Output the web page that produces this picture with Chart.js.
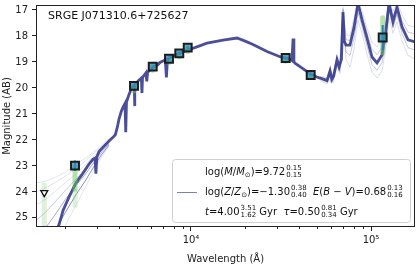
<!DOCTYPE html>
<html>
<head>
<meta charset="utf-8">
<script src="https://cdn.jsdelivr.net/npm/chart.js@4.4.1/dist/chart.umd.min.js"></script>
<style>
  html, body { margin: 0; padding: 0; background: #fff; }
  canvas { display: block; }
</style>
</head>
<body>
<canvas id="sed" width="417" height="273"></canvas>
<script>
// best fit model spectrum (wavelength in Angstrom, AB mag)
const specWave = [1377, 1700, 1824, 1950, 2100, 2296, 2500, 2700, 2850, 2930, 2963, 3000, 3083, 3330, 3550,
  3687, 3800, 3900, 3981, 4100, 4190, 4300, 4340, 4380, 4500, 4650, 4762, 4840, 4861, 4880, 5100, 5300,
  5340, 5380, 5623, 5680, 5740, 6150, 6563, 6730, 7200, 7300, 7400, 7640, 8690, 9500, 10500, 12270, 15060,
  18020, 20000, 22100, 26440, 31200, 35000, 36400, 36890, 37300, 37840, 45800, 50000, 52100, 57000, 59200,
  60500, 62000, 64730, 66500, 68500, 69890, 71000, 72620, 76430, 80440, 84660, 89130, 95010, 101290, 107980,
  115100, 121150, 125890, 132520, 139450, 148670, 160530, 175550];
const specMag = [27.5, 26.2, 25.4, 24.7, 24.2, 23.65, 23.3, 22.95, 22.75, 22.7, 23.3, 22.65, 22.45, 22.2, 22.0,
  21.9, 21.8, 21.5, 21.2, 20.9, 20.75, 20.6, 21.7, 20.55, 20.3, 20.05, 19.95, 19.9, 20.7, 19.88, 19.72, 19.62,
  20.2, 19.6, 19.42, 19.75, 19.4, 19.2, 19.1, 19.02, 18.92, 19.6, 18.9, 18.82, 18.66, 18.55, 18.45, 18.28, 18.16,
  18.08, 18.2, 18.33, 18.6, 18.8, 18.88, 18.95, 18.1, 19.0, 19.05, 19.45, 19.58, 19.62, 19.72, 19.35,
  19.68, 19.55, 18.92, 19.2, 18.9, 17.08, 18.2, 18.35, 18.35, 17.69, 16.75, 17.38, 18.08, 18.81, 19.04,
  18.73, 17.77, 16.75, 17.46, 16.9, 17.65, 18.15, 18.23];

// spread of the posterior models in the UV
const uvWave = [1377, 1550, 1750, 2000, 2300, 2600, 2900, 3200, 3500];
const uvFanA = [23.65, 23.6, 23.45, 23.25, 22.95, 22.7, 22.45, 22.2, 21.95];
const uvFanB = [24.0, 23.85, 23.65, 23.4, 23.1, 22.8, 22.5, 22.25, 22.0];
const uvFanC = [24.5, 24.3, 24.0, 23.65, 23.3, 22.95, 22.6, 22.3, 22.05];
const uvFanD = [25.1, 24.8, 24.4, 23.95, 23.5, 23.1, 22.7, 22.35, 22.1];
const uvFanE = [25.9, 25.4, 24.9, 24.3, 23.75, 23.3, 22.85, 22.45, 22.15];
const uvFanF = [26.8, 26.1, 25.5, 24.8, 24.1, 23.55, 23.0, 22.55, 22.2];
const uvFanG = [27.5, 26.8, 26.1, 25.3, 24.5, 23.8, 23.15, 22.65, 22.25];

// spread of the posterior models in the mid-IR
const irWave = [52100, 57000, 59200, 61500, 64730, 67240, 69890, 72620, 76430, 80440, 84660, 89130, 95010,
  101290, 107980, 115100, 121150, 125890, 132520, 139450, 148670, 160530, 175550];
const irUp2 = [19.55, 19.62, 19.25, 19.5, 18.75, 18.95, 16.9, 17.95, 18.0, 17.3, 16.6, 17.05, 17.7,
  18.25, 18.42, 18.15, 17.35, 16.65, 17.05, 16.7, 17.2, 17.6, 17.65];
const irUp1 = [19.58, 19.67, 19.3, 19.56, 18.83, 19.07, 16.98, 18.15, 18.17, 17.5, 16.72, 17.2, 17.88,
  18.52, 18.72, 18.43, 17.55, 16.72, 17.25, 16.8, 17.42, 17.85, 17.93];
const irLo1 = [19.66, 19.78, 19.42, 19.7, 19.02, 19.32, 17.18, 18.62, 18.75, 18.1, 17.1, 17.63, 18.38,
  19.1, 19.32, 19.03, 18.08, 17.0, 17.68, 17.18, 17.9, 18.45, 18.55];
const irLo2 = [19.7, 19.85, 19.5, 19.8, 19.15, 19.45, 17.3, 18.9, 19.2, 18.5, 17.4, 17.9, 18.7,
  19.4, 19.62, 19.35, 18.4, 17.3, 17.9, 17.45, 18.2, 18.75, 18.9];

// observed photometry
const bandWave = [2268, 4824, 6128, 7547, 8610, 9587, 33570, 46240, 116100];
const bandMag = [22.99, 19.92, 19.18, 18.88, 18.67, 18.45, 18.85, 19.50, 18.06];
const bandErr = [0.2, 0.03, 0.03, 0.03, 0.03, 0.04, 0.03, 0.04, 0.48];
const limitWave = [1531];
const limitMag = [24.03];

// posterior model photometry ranges (core and faint tails)
const postWave = [2268, 4824, 6128, 7547, 8610, 9587, 33570, 46240, 116100];
const postLo = [23.05, 19.9, 19.15, 18.85, 18.65, 18.45, 18.83, 19.45, 17.3];
const postHi = [23.9, 20.12, 19.32, 19.02, 18.8, 18.6, 18.97, 19.6, 18.65];
const tailWave = [1531, 2268];
const tailLo = [23.65, 23.9];
const tailHi = [25.4, 24.6];

const xTickVals = [2000, 3000, 4000, 5000, 6000, 7000, 8000, 9000, 10000,
  20000, 30000, 40000, 50000, 60000, 70000, 80000, 90000, 100000];
const yTickVals = [17, 18, 19, 20, 21, 22, 23, 24, 25];

const objName = 'SRGE J071310.6+725627';

const legendRows = [
  [{t: 'log('}, {t: 'M', i: 1}, {t: '/'}, {t: 'M', i: 1}, {lo: '⊙'}, {t: ')=9.72'}, {up: '0.15', dn: '0.15'}],
  [{t: 'log('}, {t: 'Z', i: 1}, {t: '/'}, {t: 'Z', i: 1}, {lo: '⊙'}, {t: ')=−1.30'}, {up: '0.38', dn: '0.40'},
   {t: '  '}, {t: 'E', i: 1}, {t: '('}, {t: 'B', i: 1}, {t: ' − '}, {t: 'V', i: 1}, {t: ')=0.68'}, {up: '0.13', dn: '0.16'}],
  [{t: 't', i: 1}, {t: '=4.00'}, {up: '3.51', dn: '1.62'}, {t: ' Gyr  '}, {t: 'τ', i: 1}, {t: '=0.50'},
   {up: '0.81', dn: '0.34'}, {t: ' Gyr'}]
];

const FONT = '"DejaVu Sans", sans-serif';

function pts(xs, ys) {
    return xs.map((x, i) => ({x: x, y: ys[i]}));
}

// vertical segments separated by gaps
function segs(xs, lo, hi) {
    const out = [];
    xs.forEach((x, i) => {
        out.push({x: x, y: lo[i]}, {x: x, y: hi[i]}, {x: x, y: null});
    });
    return out;
}

function fanLine(xs, ys, color, order) {
    return {
        data: pts(xs, ys), borderColor: color, borderWidth: 1,
        pointRadius: 0, tension: 0, fill: false, order: order
    };
}

function drawRich(ctx, parts, x, y) {
    ctx.textBaseline = 'middle';
    ctx.textAlign = 'left';
    parts.forEach((p) => {
        if (p.up !== undefined) {
            ctx.font = '7px ' + FONT;
            ctx.fillText(p.up, x + 1, y - 4);
            ctx.fillText(p.dn, x + 1, y + 3.5);
            x += Math.max(ctx.measureText(p.up).width, ctx.measureText(p.dn).width) + 1;
        } else if (p.lo !== undefined) {
            ctx.font = '7px ' + FONT;
            ctx.fillText(p.lo, x, y + 3);
            x += ctx.measureText(p.lo).width;
        } else {
            ctx.font = (p.i ? 'italic ' : '') + '10px ' + FONT;
            ctx.fillText(p.t, x, y);
            x += ctx.measureText(p.t).width;
        }
    });
}

// frame, minor ticks, object name and the legend box
const decorPlugin = {
    id: 'decor',
    afterDraw(chart) {
        const ctx = chart.ctx;
        const area = chart.chartArea;
        const xs = chart.scales.x;
        ctx.save();
        ctx.strokeStyle = '#222';
        ctx.lineWidth = 1;
        ctx.strokeRect(area.left + 0.5, area.top + 0.5, area.right - area.left - 1, area.bottom - area.top - 1);
        // minor ticks
        ctx.beginPath();
        xTickVals.forEach((v) => {
            if (v === 10000 || v === 100000) return;
            const px = Math.round(xs.getPixelForValue(v)) + 0.5;
            ctx.moveTo(px, area.bottom);
            ctx.lineTo(px, area.bottom + 2);
        });
        ctx.stroke();

        ctx.fillStyle = '#111';
        ctx.font = '11px ' + FONT;
        ctx.textBaseline = 'middle';
        ctx.fillText(objName, area.left + 12, area.top + 11);

        // legend
        const bx = area.left + 136, by = area.bottom - 68, bw = area.right - 5 - bx, bh = 63;
        ctx.fillStyle = 'rgba(255,255,255,0.85)';
        ctx.strokeStyle = '#d0d0d0';
        ctx.beginPath();
        ctx.roundRect(bx + 0.5, by + 0.5, bw, bh, 3);
        ctx.fill();
        ctx.stroke();
        ctx.strokeStyle = 'rgba(70,75,150,0.7)';
        ctx.lineWidth = 1;
        ctx.beginPath();
        ctx.moveTo(bx + 5, by + 33.5);
        ctx.lineTo(bx + 25, by + 33.5);
        ctx.stroke();
        ctx.fillStyle = '#111';
        legendRows.forEach((row, i) => {
            drawRich(ctx, row, bx + 33, by + 13 + i * 20);
        });
        ctx.restore();
    }
};

const spreadColor = 'rgba(60,65,150,0.18)';
const uvColor = 'rgba(80,85,170,0.16)';

const datasets = [
    // upper limit
    {
        data: pts(limitWave, limitMag), showLine: false, pointStyle: 'triangle', pointRotation: 180,
        pointRadius: 4, borderColor: '#111', borderWidth: 1.3, backgroundColor: 'rgba(255,255,255,0.9)', order: 1
    },
    // observed bands
    {
        data: pts(bandWave, bandMag), showLine: false, pointStyle: 'rect', pointRadius: 5.6,
        borderColor: '#1c1c1c', borderWidth: 2, backgroundColor: 'rgba(50,140,185,0.75)', order: 2
    },
    // observed errors
    {
        data: segs(bandWave, bandMag.map((m, i) => m - bandErr[i]), bandMag.map((m, i) => m + bandErr[i])),
        borderColor: 'rgba(35,120,185,0.95)', borderWidth: 2, pointRadius: 0, spanGaps: false, order: 3
    },
    // posterior photometry
    {
        data: segs(postWave, postLo, postHi), borderColor: 'rgba(110,200,90,0.5)', borderWidth: 5,
        borderCapStyle: 'round', pointRadius: 0, spanGaps: false, order: 4
    },
    {
        data: segs(tailWave, tailLo, tailHi), borderColor: 'rgba(120,205,100,0.25)', borderWidth: 5,
        pointRadius: 0, spanGaps: false, order: 4
    },
    // best model
    {
        data: pts(specWave, specMag), borderColor: 'rgba(55,60,140,0.9)', borderWidth: 2.8,
        pointRadius: 0, tension: 0, order: 5
    },
    fanLine(irWave, irUp2, spreadColor, 6),
    fanLine(irWave, irUp1, 'rgba(60,65,150,0.3)', 6),
    fanLine(irWave, irLo1, 'rgba(60,65,150,0.3)', 6),
    fanLine(irWave, irLo2, spreadColor, 6),
    fanLine(uvWave, uvFanA, uvColor, 7),
    fanLine(uvWave, uvFanB, uvColor, 7),
    fanLine(uvWave, uvFanC, uvColor, 7),
    fanLine(uvWave, uvFanD, 'rgba(70,75,160,0.3)', 7),
    fanLine(uvWave, uvFanE, 'rgba(60,65,150,0.45)', 7),
    fanLine(uvWave, uvFanF, 'rgba(60,65,150,0.6)', 7),
    fanLine(uvWave, uvFanG, uvColor, 7)
];

new Chart(document.getElementById('sed'), {
    type: 'line',
    data: { datasets: datasets },
    options: {
        responsive: false,
        animation: false,
        devicePixelRatio: 1,
        layout: { autoPadding: false, padding: { top: 5, right: 2, left: 0, bottom: 0 } },
        plugins: { legend: { display: false }, tooltip: { enabled: false } },
        scales: {
            x: {
                type: 'logarithmic',
                min: 1377,
                max: 175550,
                afterBuildTicks: (scale) => { scale.ticks = xTickVals.map((v) => ({value: v})); },
                afterFit: (scale) => { scale.height = 46; scale.paddingLeft = 0; scale.paddingRight = 0; },
                ticks: {
                    autoSkip: false, maxRotation: 0, padding: 3, color: '#222',
                    font: { family: FONT, size: 10 },
                    callback: (v) => (v === 10000 ? '10⁴' : (v === 100000 ? '10⁵' : ''))
                },
                grid: {
                    drawOnChartArea: false, tickLength: 4,
                    tickColor: (c) => ((c.tick && (c.tick.value === 10000 || c.tick.value === 100000)) ? '#222' : 'rgba(0,0,0,0)')
                },
                border: { display: false },
                title: { display: true, text: 'Wavelength (Å)', color: '#222', font: { family: FONT, size: 10 }, padding: { top: 0, bottom: 8 } }
            },
            y: {
                type: 'linear',
                reverse: true,
                min: 16.81,
                max: 25.35,
                afterBuildTicks: (scale) => { scale.ticks = yTickVals.map((v) => ({value: v})); },
                afterFit: (scale) => { scale.width = 36; scale.paddingTop = 0; scale.paddingBottom = 0; },
                ticks: { padding: 4, color: '#222', font: { family: FONT, size: 10 } },
                grid: { drawOnChartArea: false, tickLength: 4, tickColor: '#222' },
                border: { display: false },
                title: { display: true, text: 'Magnitude (AB)', color: '#222', font: { family: FONT, size: 10 }, padding: { top: 1, bottom: 0 } }
            }
        }
    },
    plugins: [decorPlugin]
});
</script>
</body>
</html>
